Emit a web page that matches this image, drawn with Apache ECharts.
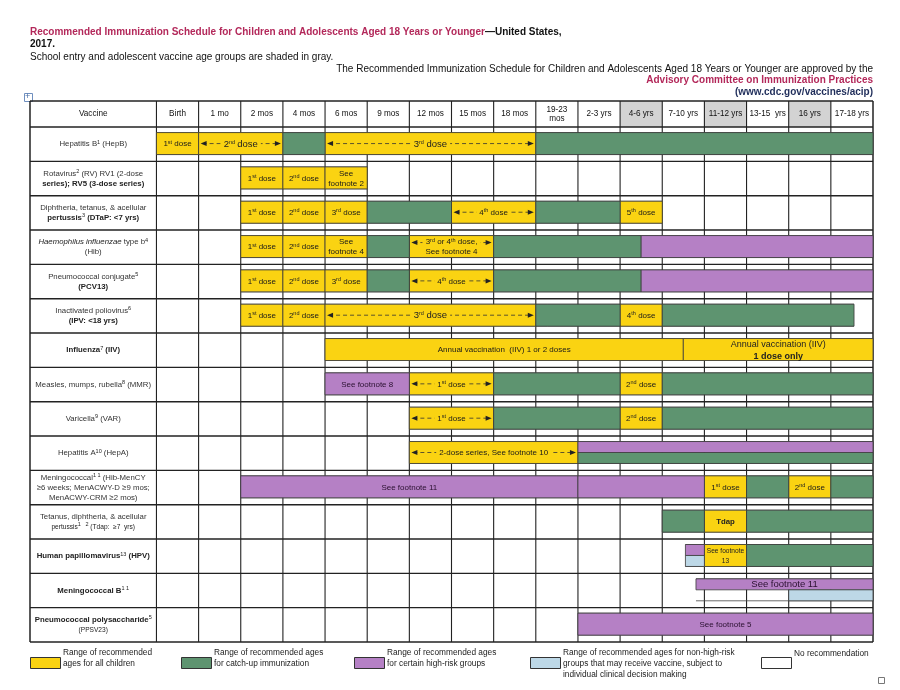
<!DOCTYPE html>
<html>
<head>
<meta charset="utf-8">
<script src="https://cdn.jsdelivr.net/npm/echarts@6/dist/echarts.min.js"></script>
<style>
html, body { margin: 0; padding: 0; background: #fff; }
#main { width: 900px; height: 690px; }
</style>
</head>
<body>
<div id="main"></div>
<script>
// age columns (x axis: column i spans i..i+1)
const ages = ['Birth', '1 mo', '2 mos', '4 mos', '6 mos', '9 mos', '12 mos', '15 mos', '18 mos', '19-23\nmos',
  '2-3 yrs', '4-6 yrs', '7-10 yrs', '11-12 yrs', '13-15  yrs', '16 yrs', '17-18 yrs'];
const grayAges = ['4-6 yrs', '11-12 yrs', '16 yrs'];

// vaccine rows (y axis: row i spans i..i+1)
const vaccines = [
  'Hepatitis B{s|1} (HepB)',
  'Rotavirus{s|2} (RV) RV1 (2-dose\n{b|series); RV5 (3-dose series)}',
  'Diphtheria, tetanus, & acellular\n{b|pertussis}{s|3}{b| (DTaP: <7 yrs)}',
  '{i|Haemophilus influenzae} type b{s|4}\n(Hib)',
  'Pneumococcal conjugate{s|5}\n{b|(PCV13)}',
  'Inactivated poliovirus{s|6}\n{b|(IPV: <18 yrs)}',
  '{b|Influenza}{s|7}{b| (IIV)}',
  'Measles, mumps, rubella{s|8} (MMR)',
  'Varicella{s|9} (VAR)',
  'Hepatitis A{s|10} (HepA)',
  'Meningococcal{s|1 1} (Hib-MenCY\n≥6 weeks; MenACWY-D ≥9 mos;\nMenACWY-CRM ≥2 mos)',
  'Tetanus, diphtheria, & acellular\n{t|pertussis}{s|1   2}{t| (Tdap:  ≥7  yrs)}',
  '{b|Human papillomavirus}{s|13}{b| (HPV)}',
  '{b|Meningococcal B}{s|1 1}',
  '{b|Pneumococcal polysaccharide}{s|5}\n{t|(PPSV23)}'
];

// yellow: range of recommended ages for all children  [row, from, to, label, arrows]
const yellowBars = [
  [0, 0, 1, '1{s|st} dose', 0],
  [0, 1, 3, '{l|2}{s|nd} {l|dose}', 1],
  [0, 4, 9, '{l|3}{s|rd}{l| dose}', 1],
  [1, 2, 3, '1{s|st} dose', 0], [1, 3, 4, '2{s|nd} dose', 0], [1, 4, 5, 'See\nfootnote 2', 0],
  [2, 2, 3, '1{s|st} dose', 0], [2, 3, 4, '2{s|nd} dose', 0], [2, 4, 5, '3{s|rd} dose', 0],
  [2, 7, 9, '4{s|th} dose', 1], [2, 11, 12, '5{s|th} dose', 0],
  [3, 2, 3, '1{s|st} dose', 0], [3, 3, 4, '2{s|nd} dose', 0], [3, 4, 5, 'See\nfootnote 4', 0],
  [3, 6, 8, '3{s|rd} or 4{s|th} dose,\nSee footnote 4', 1],
  [4, 2, 3, '1{s|st} dose', 0], [4, 3, 4, '2{s|nd} dose', 0], [4, 4, 5, '3{s|rd} dose', 0],
  [4, 6, 8, '4{s|th} dose', 1],
  [5, 2, 3, '1{s|st} dose', 0], [5, 3, 4, '2{s|nd} dose', 0], [5, 4, 9, '{l|3}{s|rd}{l| dose}', 1],
  [5, 11, 12, '4{s|th} dose', 0],
  [6, 4, 12.5, 'Annual vaccination  (IIV) 1 or 2 doses', 0],
  [6, 12.5, 17, '{m|Annual vaccination (IIV)}\n{mb|1 dose only}', 0],
  [7, 6, 8, '1{s|st} dose', 1], [7, 11, 12, '2{s|nd} dose', 0],
  [8, 6, 8, '1{s|st} dose', 1], [8, 11, 12, '2{s|nd} dose', 0],
  [9, 6, 10, '2-dose series, See footnote 10', 1],
  [10, 13, 14, '1{s|st} dose', 0], [10, 15, 16, '2{s|nd} dose', 0],
  [11, 13, 14, '{b|Tdap}', 0],
  [12, 13, 14, '{t|See footnote}\n{t|13}', 0]
];

// green: range for catch-up immunization  [row, from, to, half]
const greenBars = [
  [0, 3, 4, 0], [0, 9, 17, 0],
  [2, 5, 7, 0], [2, 9, 11, 0],
  [3, 5, 6, 0], [3, 8, 11.5, 0],
  [4, 5, 6, 0], [4, 8, 11.5, 0],
  [5, 9, 11, 0], [5, 12, 16.55, 0],
  [7, 8, 11, 0], [7, 12, 17, 0],
  [8, 8, 11, 0], [8, 12, 17, 0],
  [9, 10, 17, 2],
  [10, 14, 15, 0], [10, 16, 17, 0],
  [11, 12, 13, 0], [11, 14, 17, 0],
  [12, 14, 17, 0]
];

// purple: certain high-risk groups  [row, from, to, label, half]
const purpleBars = [
  [3, 11.5, 17, '', 0], [4, 11.5, 17, '', 0],
  [7, 4, 6, 'See footnote 8', 0],
  [9, 10, 17, '', 1],
  [10, 2, 10, 'See footnote 11', 0], [10, 10, 13, '', 0],
  [12, 12.55, 13, '', 1],
  [13, 12.8, 17, '{big|See footnote 11}', 1],
  [14, 10, 17, 'See footnote 5', 0]
];

// light blue: non-high-risk groups, clinical decision  [row, from, to, half]
const blueBars = [
  [12, 12.55, 13, 2], [13, 15, 17, 2]
];

const COL = { yellow: '#fad312', green: '#5e9470', purple: '#b580c5', blue: '#bdd8e7' };
const FONT = 'Liberation Sans, Arial, sans-serif';
const rich = {
  s: { fontSize: 5.5, verticalAlign: 'top', fontFamily: FONT, fill: '#222' },
  b: { fontWeight: 'bold', fontSize: 7.8, fontFamily: FONT, fill: '#222' },
  i: { fontStyle: 'italic', fontSize: 7.8, fontFamily: FONT, fill: '#222' },
  t: { fontSize: 6.6, fontFamily: FONT, fill: '#222' },
  l: { fontSize: 9.5, fontFamily: FONT, fill: '#222' },
  m: { fontSize: 9, fontFamily: FONT, fill: '#222', lineHeight: 12 },
  mb: { fontSize: 9, fontWeight: 'bold', fontFamily: FONT, fill: '#222', lineHeight: 12 },
  big: { fontSize: 9.5, fontFamily: FONT, fill: '#2a1030' }
};

// extent of sub-lines in each row (from the bars in it)
const rowSpan = vaccines.map(() => null);
[yellowBars, greenBars, purpleBars, blueBars].forEach(list => list.forEach(b => {
  const s = rowSpan[b[0]];
  rowSpan[b[0]] = s ? [Math.min(s[0], b[1]), Math.max(s[1], b[2])] : [b[1], b[2]];
}));

const BAR_TOP = 0.16, BAR_BOT = 0.8;

function barBox(api, from, to, row, half) {
  let t = row + BAR_TOP, b = row + BAR_BOT;
  const mid = (t + b) / 2;
  if (half === 1) b = mid;
  if (half === 2) t = mid;
  const p0 = api.coord([from, t]);
  const p1 = api.coord([to, b]);
  return { x: p0[0], y: p0[1], width: p1[0] - p0[0], height: p1[1] - p0[1] };
}

function arrowEls(x0, x1, y) {
  return [
    { type: 'line', shape: { x1: x0 + 4, y1: y, x2: x1 - 4, y2: y }, style: { stroke: '#333', lineWidth: 0.8, lineDash: [4, 3] } },
    { type: 'polygon', shape: { points: [[x0 + 2, y], [x0 + 8, y - 2.5], [x0 + 8, y + 2.5]] }, style: { fill: '#222' } },
    { type: 'polygon', shape: { points: [[x1 - 2, y], [x1 - 8, y - 2.5], [x1 - 8, y + 2.5]] }, style: { fill: '#222' } }
  ];
}

function makeBarRenderer(list, colour, labelIdx, arrowIdx, halfIdx) {
  return function (params, api) {
    const d = list[params.dataIndex];
    const half = halfIdx != null ? d[halfIdx] : 0;
    const box = barBox(api, api.value(0), api.value(1), api.value(2), half);
    const children = [{ type: 'rect', shape: box, style: { fill: colour, stroke: '#3a3a3a', lineWidth: 0.8 } }];
    const label = labelIdx != null ? d[labelIdx] : '';
    const cx = box.x + box.width / 2, cy = box.y + box.height / 2;
    const arrows = arrowIdx != null && d[arrowIdx];
    if (arrows) {
      const twoLine = label.indexOf('\n') >= 0;
      children.push(...arrowEls(box.x, box.x + box.width, twoLine ? cy - 4 : cy));
    }
    if (label) {
      children.push({
        type: 'text',
        style: {
          text: label, x: cx, y: cy + 0.5, align: 'center', verticalAlign: 'middle',
          fontSize: 8, fontFamily: FONT, fill: colour === COL.purple ? '#2a1030' : '#1a1a1a',
          lineHeight: 10, rich: rich,
          backgroundColor: arrows ? colour : null, padding: arrows ? [0, 3] : 0
        }
      });
    }
    return { type: 'group', children: children };
  };
}

function renderTable(params, api) {
  const r = params.dataIndex;
  const children = [];
  const left = api.coord([-3, 0])[0], right = api.coord([17, 0])[0], colStart = api.coord([0, 0])[0];
  const top = api.coord([0, r])[1], bot = api.coord([0, r + 1])[1];
  const line = (x1, y1, x2, y2, w, c) => ({ type: 'line', shape: { x1, y1, x2, y2 }, style: { stroke: c || '#333', lineWidth: w || 1 } });

  if (r === 0) {
    const hTop = api.coord([0, -0.76])[1], tBot = api.coord([0, vaccines.length])[1];
    // header cells
    ages.forEach((a, i) => {
      const x0 = api.coord([i, 0])[0], x1 = api.coord([i + 1, 0])[0];
      if (grayAges.indexOf(a) >= 0) {
        children.push({ type: 'rect', shape: { x: x0, y: hTop, width: x1 - x0, height: top - hTop }, style: { fill: '#d3d3d3' } });
      }
      children.push({ type: 'text', style: { text: a, x: (x0 + x1) / 2, y: (hTop + top) / 2, align: 'center', verticalAlign: 'middle', fontSize: 8.2, fontFamily: FONT, fill: '#111', lineHeight: 9 } });
    });
    children.push({ type: 'text', style: { text: 'Vaccine', x: (left + colStart) / 2, y: (hTop + top) / 2, align: 'center', verticalAlign: 'middle', fontSize: 8.2, fontFamily: FONT, fill: '#111' } });
    // vertical lines
    for (let i = 0; i <= ages.length; i++) {
      const x = api.coord([i, 0])[0];
      children.push(line(x, hTop, x, tBot, i === ages.length ? 1.5 : 1.1, '#222'));
    }
    children.push(line(left, hTop, left, tBot, 1.5, '#222'));
    children.push(line(left, hTop, right, hTop, 1.5, '#222'));
    children.push(line(left, top, right, top, 1.5, '#222'));
  }

  // sub-lines at bar top and bottom
  const sp = rowSpan[r];
  if (sp) {
    const xa = api.coord([sp[0], 0])[0], xb = api.coord([sp[1], 0])[0];
    const yt = api.coord([0, r + BAR_TOP])[1], yb = api.coord([0, r + BAR_BOT])[1];
    children.push(line(xa, yt, xb, yt, 0.8, '#444'));
    children.push(line(xa, yb, xb, yb, 0.8, '#444'));
  }

  children.push({
    type: 'text',
    style: {
      text: vaccines[r], x: (left + colStart) / 2, y: (top + bot) / 2, align: 'center', verticalAlign: 'middle',
      fontSize: 7.8, fontFamily: FONT, fill: '#333', lineHeight: 10, rich: rich
    }
  });
  children.push(line(left, bot, right, bot, 1.4, '#222'));
  return { type: 'group', children: children };
}

const chart = echarts.init(document.getElementById('main'), null, { renderer: 'canvas' });

const legendItems = [
  { x: 30, fill: COL.yellow, text: 'Range of recommended\nages for all children' },
  { x: 181, fill: COL.green, text: 'Range of recommended ages\nfor catch-up immunization' },
  { x: 354, fill: COL.purple, text: 'Range of recommended ages\nfor certain high-risk groups' },
  { x: 530, fill: COL.blue, text: 'Range of recommended ages for non-high-risk\ngroups that may receive vaccine, subject to\nindividual clinical decision making' },
  { x: 761, fill: '#fff', text: 'No recommendation' }
];
const legendGraphics = [];
legendItems.forEach(it => {
  legendGraphics.push({ type: 'rect', left: it.x, top: 657, shape: { width: 30, height: 11 }, style: { fill: it.fill, stroke: '#333', lineWidth: 1 } });
  legendGraphics.push({ type: 'text', left: it.x + 33, top: it.fill === '#fff' ? 648 : 647, style: { text: it.text, fontSize: 8.3, fontFamily: FONT, fill: '#222', lineHeight: 11 } });
});

chart.setOption({
  animation: false,
  backgroundColor: '#fff',
  grid: { left: 30, right: 27, top: 101, bottom: 48 },
  xAxis: { type: 'value', min: -3, max: 17, show: false },
  yAxis: { type: 'value', min: -0.76, max: vaccines.length, inverse: true, show: false },
  graphic: [
    {
      type: 'text', left: 30, top: 26,
      style: {
        text: '{r|Recommended Immunization Schedule for Children and Adolescents Aged 18 Years or Younger}{k|—United States,}\n{k|2017.}',
        lineHeight: 12,
        rich: {
          r: { fontSize: 10, fontWeight: 'bold', fontFamily: FONT, fill: '#b3285a', lineHeight: 12 },
          k: { fontSize: 10, fontWeight: 'bold', fontFamily: FONT, fill: '#111', lineHeight: 12 }
        }
      }
    },
    { type: 'text', left: 30, top: 52, style: { text: 'School entry and adolescent vaccine age groups are shaded in gray.', fontSize: 10, fontFamily: FONT, fill: '#111' } },
    { type: 'text', right: 27, top: 64, style: { text: 'The Recommended Immunization Schedule for Children and Adolescents Aged 18 Years or Younger are approved by the', fontSize: 10, fontFamily: FONT, fill: '#111' } },
    { type: 'text', right: 27, top: 75, style: { text: 'Advisory Committee on Immunization Practices', fontSize: 10, fontWeight: 'bold', fontFamily: FONT, fill: '#b3285a' } },
    { type: 'text', right: 27, top: 87, style: { text: '(www.cdc.gov/vaccines/acip)', fontSize: 10, fontWeight: 'bold', fontFamily: FONT, fill: '#1f2d5a' } },
    // table move handle and end marker
    { type: 'rect', left: 24, top: 93, shape: { width: 8, height: 8 }, style: { fill: '#fff', stroke: '#6f8fbf', lineWidth: 1 } },
    { type: 'text', left: 25, top: 92, style: { text: '+', fontSize: 9, fontFamily: FONT, fill: '#4a6fa8' } },
    { type: 'rect', left: 878, top: 677, shape: { width: 6, height: 6 }, style: { fill: '#fff', stroke: '#777', lineWidth: 1 } }
  ].concat(legendGraphics),
  series: [
    {
      type: 'custom', name: 'table', renderItem: renderTable,
      data: vaccines.map((v, i) => [-3, 17, i]), encode: { x: [0, 1], y: 2 }, clip: false, silent: true
    },
    {
      type: 'custom', name: 'Range of recommended ages for all children',
      renderItem: makeBarRenderer(yellowBars, COL.yellow, 3, 4, null),
      data: yellowBars.map(b => [b[1], b[2], b[0]]), encode: { x: [0, 1], y: 2 }
    },
    {
      type: 'custom', name: 'Range of recommended ages for catch-up immunization',
      renderItem: makeBarRenderer(greenBars, COL.green, null, null, 3),
      data: greenBars.map(b => [b[1], b[2], b[0]]), encode: { x: [0, 1], y: 2 }
    },
    {
      type: 'custom', name: 'Range of recommended ages for certain high-risk groups',
      renderItem: makeBarRenderer(purpleBars, COL.purple, 3, null, 4),
      data: purpleBars.map(b => [b[1], b[2], b[0]]), encode: { x: [0, 1], y: 2 }
    },
    {
      type: 'custom', name: 'Range of recommended ages for non-high-risk groups',
      renderItem: makeBarRenderer(blueBars, COL.blue, null, null, 3),
      data: blueBars.map(b => [b[1], b[2], b[0]]), encode: { x: [0, 1], y: 2 }
    }
  ]
});
</script>
</body>
</html>
